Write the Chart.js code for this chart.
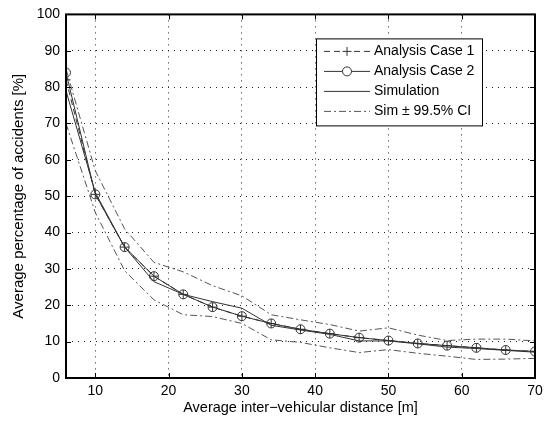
<!DOCTYPE html>
<html>
<head>
<meta charset="utf-8">
<script src="https://cdn.jsdelivr.net/npm/chart.js@4/dist/chart.umd.min.js"></script>
<style>
    html, body { margin: 0; padding: 0; background: #fff; }
    canvas { display: block; }
</style>
</head>
<body>
<canvas id="chart" width="552" height="424"></canvas>
<script>
    // distances (m) at which each series was evaluated
    const distances = [6, 10, 14, 18, 22, 26, 30, 34, 38, 42, 46, 50, 54, 58, 62, 66, 70];
    const analysisCase1 = [82, 50.5, 36, 28, 23, 19.5, 17, 15, 13.4, 12.2, 11.1, 10.3, 9.5, 8.9, 8.3, 7.7, 7.3];
    const analysisCase2 = [84, 50.5, 36, 28, 23, 19.5, 17, 15, 13.4, 12.2, 11.1, 10.3, 9.5, 8.9, 8.3, 7.7, 7.3];
    const simulation = [79, 51, 36, 26.5, 23, 21, 19.2, 14.5, 13.2, 12, 10.2, 10.2, 9.4, 8.5, 8.1, 7.6, 7.1];
    const ciUpper = [85, 57, 41, 31.8, 29.2, 25.4, 22.6, 17.4, 16, 14.7, 12.9, 13.8, 11.8, 10.3, 10.7, 10.7, 10.2];
    const ciLower = [70, 45.5, 29.5, 21.5, 17.4, 16.9, 15, 10.5, 9.8, 8.3, 7.0, 7.8, 6.8, 6.0, 5.1, 5.2, 5.4];

    const xTicks = [10, 20, 30, 40, 50, 60, 70];
    const yTicks = [0, 10, 20, 30, 40, 50, 60, 70, 80, 90, 100];
    const legendLabels = ["Analysis Case 1", "Analysis Case 2", "Simulation", "Sim \u00b1 99.5% CI"];

    const FONT = "'Liberation Sans', Arial, Helvetica, sans-serif";
    const LINE = "#333";
    const CI = "#555";
    const DASH = [6, 4];
    const DASHDOT = [7, 3, 2, 3];

    const pts = (arr) => arr.map((v, i) => ({ x: distances[i], y: v }));

    // frame, inward ticks and the boxed legend, matlab style
    const framePlugin = {
        id: "frame",
        afterDraw(chart) {
            const { ctx, chartArea: a, scales: { x, y } } = chart;
            ctx.save();
            ctx.strokeStyle = "#000";
            ctx.lineWidth = 1;
            ctx.beginPath();
            xTicks.forEach((v) => {
                const px = Math.round(x.getPixelForValue(v)) + 0.5;
                ctx.moveTo(px, a.bottom); ctx.lineTo(px, a.bottom - 5);
                ctx.moveTo(px, a.top); ctx.lineTo(px, a.top + 5);
            });
            yTicks.forEach((v) => {
                const py = Math.round(y.getPixelForValue(v)) + 0.5;
                ctx.moveTo(a.left, py); ctx.lineTo(a.left + 5, py);
                ctx.moveTo(a.right, py); ctx.lineTo(a.right - 5, py);
            });
            ctx.stroke();
            ctx.lineWidth = 2;
            ctx.strokeRect(a.left, a.top, a.right - a.left, a.bottom - a.top);

            // legend
            const bx = a.right - 219, by = a.top + 24, bw = 166, bh = 87;
            ctx.fillStyle = "#fff";
            ctx.fillRect(bx, by, bw, bh);
            ctx.lineWidth = 1;
            ctx.strokeStyle = "#000";
            ctx.strokeRect(bx + 0.5, by + 0.5, bw, bh);
            const styles = [
                { color: LINE, dash: DASH, marker: "cross" },
                { color: LINE, dash: [], marker: "circle" },
                { color: LINE, dash: [], marker: null },
                { color: CI, dash: DASHDOT, marker: null },
            ];
            ctx.font = "14px " + FONT;
            ctx.textBaseline = "middle";
            legendLabels.forEach((label, i) => {
                const ry = by + 13 + i * 20;
                const s = styles[i];
                ctx.strokeStyle = s.color;
                ctx.setLineDash(s.dash);
                ctx.beginPath();
                ctx.moveTo(bx + 8, ry); ctx.lineTo(bx + 54, ry);
                ctx.stroke();
                ctx.setLineDash([]);
                if (s.marker === "circle") {
                    ctx.fillStyle = "#fff";
                    ctx.beginPath(); ctx.arc(bx + 31, ry, 4.5, 0, Math.PI * 2); ctx.fill(); ctx.stroke();
                } else if (s.marker === "cross") {
                    ctx.fillStyle = "#fff";
                    ctx.fillRect(bx + 25, ry - 3, 12, 6);
                    ctx.beginPath();
                    ctx.moveTo(bx + 26.5, ry); ctx.lineTo(bx + 35.5, ry);
                    ctx.moveTo(bx + 31, ry - 4.5); ctx.lineTo(bx + 31, ry + 4.5);
                    ctx.stroke();
                }
                ctx.fillStyle = "#000";
                ctx.fillText(label, bx + 58, ry);
            });
            ctx.restore();
        },
    };

    const gridOpts = { color: "#222", lineWidth: 1, drawTicks: false };
    const borderOpts = { display: false, dash: [1, 5] };

    new Chart(document.getElementById("chart"), {
        type: "line",
        data: {
            datasets: [
                { label: "CI upper", data: pts(ciUpper), borderColor: CI, borderWidth: 1, borderDash: DASHDOT, pointRadius: 0 },
                { label: "CI lower", data: pts(ciLower), borderColor: CI, borderWidth: 1, borderDash: DASHDOT, pointRadius: 0 },
                { label: "Simulation", data: pts(simulation), borderColor: LINE, borderWidth: 1, pointRadius: 0 },
                { label: "Analysis Case 1", data: pts(analysisCase1), borderColor: LINE, borderWidth: 1, borderDash: DASH, pointStyle: "cross", pointRadius: 4.5, pointBorderColor: LINE, pointBorderWidth: 1 },
                { label: "Analysis Case 2", data: pts(analysisCase2), borderColor: LINE, borderWidth: 1, pointStyle: "circle", pointRadius: 4.5, pointBorderColor: LINE, pointBackgroundColor: "rgba(0,0,0,0)", pointBorderWidth: 1 },
            ],
        },
        options: {
            responsive: false,
            animation: false,
            events: [],
            layout: { padding: { top: 7, right: 17, left: 0, bottom: 0 } },
            plugins: { legend: { display: false }, tooltip: { enabled: false } },
            scales: {
                x: {
                    type: "linear", min: 6, max: 70,
                    afterBuildTicks: (s) => { s.ticks = xTicks.map((v) => ({ value: v })); },
                    afterFit: (s) => { s.height = 46; },
                    grid: gridOpts, border: borderOpts,
                    ticks: { color: "#000", padding: 5, font: { family: FONT, size: 14 }, maxRotation: 0 },
                    title: { display: true, text: "Average inter\u2212vehicular distance [m]", color: "#000", font: { family: FONT, size: 14.5 }, padding: { top: 0, bottom: 7 } },
                },
                y: {
                    type: "linear", min: 0, max: 100,
                    afterBuildTicks: (s) => { s.ticks = yTicks.map((v) => ({ value: v })); },
                    afterFit: (s) => { s.width = 66; },
                    grid: gridOpts, border: borderOpts,
                    ticks: { color: "#000", padding: 6, font: { family: FONT, size: 14 } },
                    title: { display: true, text: "Average percentage of accidents [%]", color: "#000", font: { family: FONT, size: 15 }, padding: { top: 10, bottom: 0 } },
                },
            },
        },
        plugins: [framePlugin],
    });
</script>
</body>
</html>
